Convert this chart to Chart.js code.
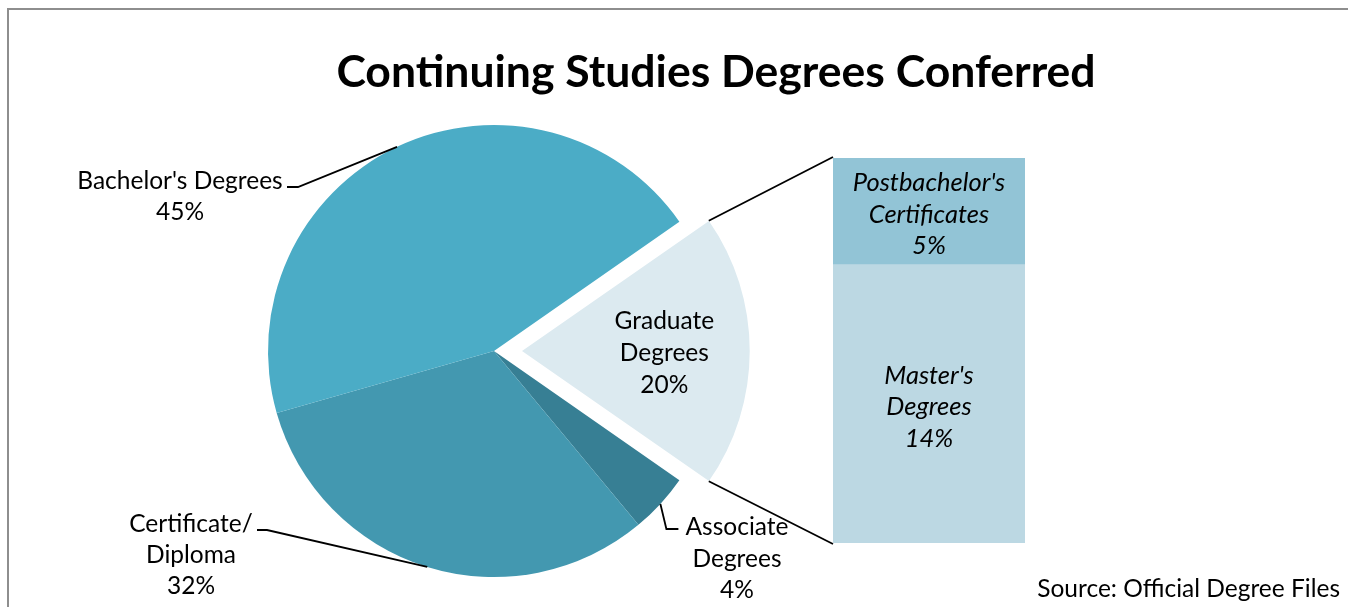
<!DOCTYPE html>
<html>
<head>
<meta charset="utf-8">
<title>Continuing Studies Degrees Conferred</title>
<script src="https://cdn.jsdelivr.net/npm/chart.js@4.4.1/dist/chart.umd.min.js"></script>
<style>
  html, body { margin: 0; padding: 0; background: #ffffff; }
  #wrap { position: relative; width: 1348px; height: 607px; overflow: hidden; background: #ffffff; }
  #frame { position: absolute; left: 7px; top: 8px; width: 1400px; height: 700px;
           border-top: 2px solid #8e8e8e; border-left: 2px solid #8e8e8e; box-sizing: border-box; }
  #pie { position: absolute; left: 0; top: 0; }
  #bar { position: absolute; left: 833px; top: 158px; }
</style>
</head>
<body>
<div id="wrap">
  <div id="frame"></div>
  <canvas id="pie" width="1348" height="607"></canvas>
  <canvas id="bar" width="192" height="385"></canvas>
</div>
<script>
// ---- data -------------------------------------------------------------
const chartTitle = 'Continuing Studies Degrees Conferred';
const sourceNote = 'Source: Official Degree Files';

// pie slices, listed clockwise from the exploded slice
const pieCategories = ['Graduate Degrees', 'Associate Degrees', 'Certificate/Diploma', "Bachelor's Degrees"];
const pieLabelLines = [['Graduate', 'Degrees'], ['Associate', 'Degrees'], ['Certificate/', 'Diploma'], ["Bachelor's Degrees"]];
const pieShares = [19.5, 4.3, 31.8, 45.0];
const pieColors = ['#dceaf0', '#377f94', '#4398b0', '#4bacc6'];

// breakdown of the graduate slice, bottom to top
const barCategories = ["Master's Degrees", "Postbachelor's Certificates"];
const barLabelLines = [["Master's", 'Degrees'], ["Postbachelor's", 'Certificates']];
const barShares = [14.1, 5.4];
const barColors = ['#bcd8e3', '#92c4d6'];

// ---- styling ----------------------------------------------------------
const FONT = 'Lato, "Open Sans", sans-serif';
const LABEL_SIZE = 24.5;
const ITALIC_SIZE = 25.5;
const EXPLODE_PX = 28;          // how far the graduate slice is pulled out
const pct = v => Math.round(v) + '%';

const pieTotal = pieShares.reduce((a, b) => a + b, 0);
const gradSweepDeg = pieShares[0] / pieTotal * 360;
// Chart.js measures rotation from 12 o'clock; centre the first slice on 3 o'clock
const pieRotation = 90 - gradSweepDeg / 2;

// ---- stacked bar for the graduate breakdown ---------------------------
const barTextPlugin = {
  id: 'barText',
  afterDatasetsDraw(chart) {
    const ctx = chart.ctx;
    ctx.save();
    ctx.fillStyle = '#000';
    ctx.textAlign = 'center';
    ctx.textBaseline = 'middle';
    ctx.font = 'italic ' + ITALIC_SIZE + 'px ' + FONT;
    chart.data.datasets.forEach((ds, i) => {
      const el = chart.getDatasetMeta(i).data[0];
      const lines = barLabelLines[i].concat([pct(ds.data[0])]);
      const cy = (el.y + el.base) / 2 + 3;
      const lh = 31.5;
      lines.forEach((t, k) => {
        ctx.fillText(t, el.x, cy + (k - (lines.length - 1) / 2) * lh);
      });
    });
    ctx.restore();
  }
};

const barChart = new Chart(document.getElementById('bar'), {
  type: 'bar',
  data: {
    labels: ['Graduate Degrees'],
    datasets: barCategories.map((name, i) => ({
      label: name,
      data: [barShares[i]],
      backgroundColor: barColors[i],
      borderWidth: 0,
      barPercentage: 1,
      categoryPercentage: 1
    }))
  },
  options: {
    responsive: false,
    animation: false,
    events: [],
    layout: { padding: 0 },
    scales: {
      x: { stacked: true, display: false },
      y: { stacked: true, display: false, min: 0, max: barShares.reduce((a, b) => a + b, 0) }
    },
    plugins: { legend: { display: false }, tooltip: { enabled: false } }
  },
  plugins: [barTextPlugin]
});

// ---- pie annotations: title, labels, leader and connector lines -------
const pieTextPlugin = {
  id: 'pieText',
  afterDraw(chart) {
    const ctx = chart.ctx;
    const arcs = chart.getDatasetMeta(0).data;
    const ds = chart.data.datasets[0];

    ctx.save();
    // title
    ctx.fillStyle = '#000';
    ctx.textAlign = 'center';
    ctx.textBaseline = 'alphabetic';
    ctx.font = 'bold 44.5px ' + FONT;
    ctx.fillText(chartTitle, 716, 87);

    const midPoint = (arc, r) => {
      const a = (arc.startAngle + arc.endAngle) / 2;
      return { x: arc.x + Math.cos(a) * r, y: arc.y + Math.sin(a) * r, a };
    };

    ctx.strokeStyle = '#000';
    ctx.lineWidth = 1.8;
    ctx.font = LABEL_SIZE + 'px ' + FONT;

    const drawLines = (lines, cx, baselines) => {
      ctx.textAlign = 'center';
      lines.forEach((t, k) => ctx.fillText(t, cx, baselines[k]));
    };

    // graduate slice (exploded) - label inside
    const g = arcs[0];
    const gMid = (g.startAngle + g.endAngle) / 2;
    const shiftX = Math.cos(gMid) * EXPLODE_PX, shiftY = Math.sin(gMid) * EXPLODE_PX;
    const sweep = g.endAngle - g.startAngle;
    const gR = g.outerRadius + EXPLODE_PX * (1 - Math.sin(Math.min(Math.PI, sweep)));
    const gx = g.x + shiftX, gy = g.y + shiftY;
    {
      const cx = gx + Math.cos(gMid) * g.outerRadius * 0.63;
      drawLines(pieLabelLines[0].concat([pct(ds.data[0])]), cx, [329, 361, 393]);
    }

    // connectors from the exploded slice to the breakdown bar
    const barCanvas = barChart.canvas;
    const bx0 = barCanvas.offsetLeft, by0 = barCanvas.offsetTop;
    const topEl = barChart.getDatasetMeta(barShares.length - 1).data[0];
    const botEl = barChart.getDatasetMeta(0).data[0];
    const barLeft = bx0 + topEl.x - topEl.width / 2;
    const barTop = by0 + topEl.y;
    const barBottom = by0 + botEl.base;
    ctx.beginPath();
    ctx.moveTo(gx + Math.cos(g.startAngle) * gR, gy + Math.sin(g.startAngle) * gR);
    ctx.lineTo(barLeft, barTop - 1);
    ctx.moveTo(gx + Math.cos(g.endAngle) * gR, gy + Math.sin(g.endAngle) * gR);
    ctx.lineTo(barLeft, barBottom + 1);
    ctx.stroke();

    // associate degrees - elbow leader going down, label to the right
    {
      const p = midPoint(arcs[1], arcs[1].outerRadius);
      ctx.beginPath();
      ctx.moveTo(p.x, p.y);
      ctx.lineTo(p.x + 6, 529);
      ctx.lineTo(p.x + 18, 529);
      ctx.stroke();
      drawLines(pieLabelLines[1].concat([pct(ds.data[1])]), 737, [535, 567, 598]);
    }

    // certificate / diploma - leader to the left
    {
      const p = midPoint(arcs[2], arcs[2].outerRadius);
      ctx.beginPath();
      ctx.moveTo(p.x, p.y);
      ctx.lineTo(267, 530);
      ctx.lineTo(257, 530);
      ctx.stroke();
      drawLines(pieLabelLines[2].concat([pct(ds.data[2])]), 191, [532, 563, 594]);
    }

    // bachelor's degrees - leader to the upper left
    {
      const p = midPoint(arcs[3], arcs[3].outerRadius);
      ctx.beginPath();
      ctx.moveTo(p.x, p.y);
      ctx.lineTo(298, 187);
      ctx.lineTo(287, 187);
      ctx.stroke();
      drawLines(pieLabelLines[3].concat([pct(ds.data[3])]), 180, [189, 220]);
    }

    // source note
    ctx.textAlign = 'right';
    ctx.fillText(sourceNote, 1340, 597);
    ctx.restore();
  }
};

new Chart(document.getElementById('pie'), {
  type: 'pie',
  data: {
    labels: pieCategories,
    datasets: [{
      data: pieShares,
      backgroundColor: pieColors,
      borderWidth: 0,
      offset: pieShares.map((v, i) => i === 0 ? EXPLODE_PX * 4 : 0),
      hoverOffset: 0
    }]
  },
  options: {
    responsive: false,
    animation: false,
    events: [],
    rotation: pieRotation,
    radius: 226,
    layout: { padding: { left: 0, right: 360, top: 95, bottom: 0 } },
    plugins: { legend: { display: false }, tooltip: { enabled: false } }
  },
  plugins: [pieTextPlugin]
});
</script>
</body>
</html>
